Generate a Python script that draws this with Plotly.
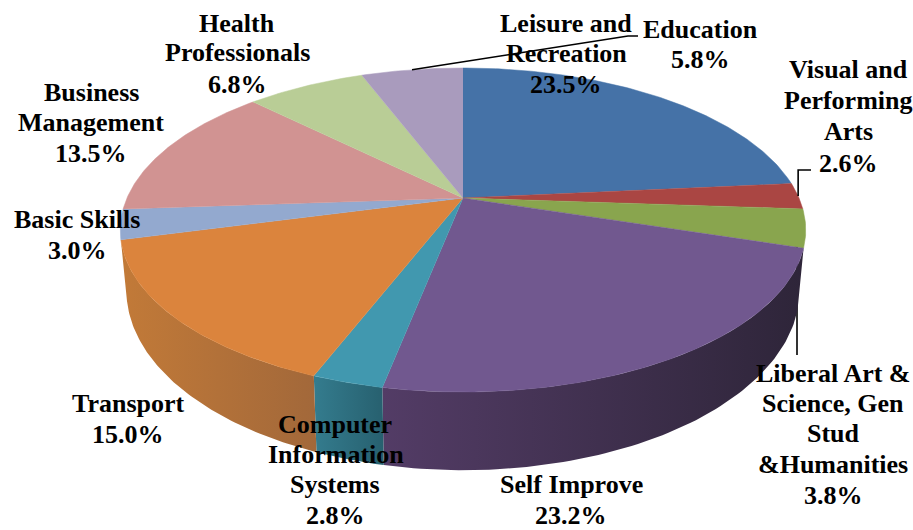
import numpy as np
import plotly.graph_objects as go

# ---- data, clockwise from 12 o'clock ----
categories = [["Leisure and", "Recreation"], ["Visual and", "Performing", "Arts"],
              ["Liberal Art &", "Science, Gen", "Stud", "&Humanities"], ["Self Improve"],
              ["Computer", "Information", "Systems"], ["Transport"], ["Basic Skills"],
              ["Business", "Management"], ["Health", "Professionals"], ["Education"]]
values = [23.5, 2.6, 3.8, 23.2, 2.8, 15.0, 3.0, 13.5, 6.8, 5.8]
label_text = ["23.5%", "2.6%", "3.8%", "23.2%", "2.8%", "15.0%", "3.0%", "13.5%", "6.8%", "5.8%"]

# ---- style ----
top_colors = ["#4572A7", "#AA4643", "#89A54E", "#71588F", "#4198AF",
              "#DB843D", "#93A9CF", "#D19392", "#B9CD96", "#A99BBD"]
side_gradients = {3: ("#533C66", "#2E2539"), 4: ("#347C8E", "#27606F"), 5: ("#C27A38", "#A2683A")}
label_x = [566, 848, 833, 571, [335, 336, 335, 335], 128, 77, 91, 237, 700]
label_y = [[23, 53, 84], [69, 100, 131, 163], [373, 403, 433, 464, 495], [484.5, 515],
           [424, 454.5, 484.5, 515], [403, 434], [219, 250], [92, 122, 153], [23, 52, 84], [29, 59]]
FONT = dict(family="Liberation Serif", size=26, color="black")

# ---- perspective projection of a disc ----
def project(frac, cx, apex_y, b, a, c):
    t = 2 * np.pi * np.asarray(frac)
    u, v = np.sin(t), np.cos(t)
    d = 1 + c * v
    return cx + b * u / d, apex_y - a * v / d

TOP = (463, 198, 336, 155.7, 0.1975)
BOTTOM = (463, 254.6, 330, 173, 0.1975)

edges = np.concatenate([[0], np.cumsum(values) / 100.0])
edges[-1] = 1.0

fig = go.Figure()

# leader hidden behind the pie first
fig.add_trace(go.Scatter(x=[797, 797], y=[240, 355], mode="lines",
                         line=dict(color="black", width=1.6), hoverinfo="skip"))

# sides
for i, (c0, c1) in side_gradients.items():
    f = np.linspace(edges[i], edges[i + 1], 80)
    xt, yt = project(f, *TOP)
    xb, yb = project(f, *BOTTOM)
    fig.add_trace(go.Scatter(
        x=np.concatenate([xt, xb[::-1]]), y=np.concatenate([yt, yb[::-1]]),
        mode="lines", line=dict(width=0), fill="toself", hoverinfo="skip",
        fillgradient=dict(type="horizontal", colorscale=[[0, c0], [1, c1]]),
    ))

# top faces
for i, col in enumerate(top_colors):
    f = np.linspace(edges[i], edges[i + 1], max(6, int(values[i] * 6)))
    x, y = project(f, *TOP)
    fig.add_trace(go.Scatter(
        x=np.concatenate([[TOP[0]], x]), y=np.concatenate([[TOP[1]], y]),
        mode="lines", line=dict(width=0.5, color=col), fill="toself",
        fillcolor=col, hoverinfo="skip"))

# leaders from slice middles
mids = (edges[:-1] + edges[1:]) / 2
ex, ey = project(mids[9], *TOP)
fig.add_trace(go.Scatter(x=[ex, 628, 638], y=[ey, 36, 36], mode="lines",
                         line=dict(color="black", width=1.6), hoverinfo="skip"))
vx, vy = project(mids[1], *TOP)
fig.add_trace(go.Scatter(x=[vx, vx, 811], y=[vy, 170, 170], mode="lines",
                         line=dict(color="black", width=1.6), hoverinfo="skip"))

for cat, txt, lx, ly in zip(categories, label_text, label_x, label_y):
    xs = lx if isinstance(lx, list) else [lx] * len(ly)
    for line, px, py in zip(cat + [txt], xs, ly):
        fig.add_annotation(x=px, y=py, text=f"<b>{line}</b>", showarrow=False,
                           font=FONT, align="center", xanchor="center", yanchor="middle")

fig.update_layout(
    width=913, height=530, autosize=False, showlegend=False,
    margin=dict(l=0, r=0, t=0, b=0),
    paper_bgcolor="white", plot_bgcolor="white",
    xaxis=dict(visible=False, range=[0, 913], fixedrange=True),
    yaxis=dict(visible=False, range=[530, 0], fixedrange=True),
)
fig.write_html("out.html", config=dict(displayModeBar=False),
               post_script="document.body.style.margin='0';document.documentElement.style.overflow='hidden';")
